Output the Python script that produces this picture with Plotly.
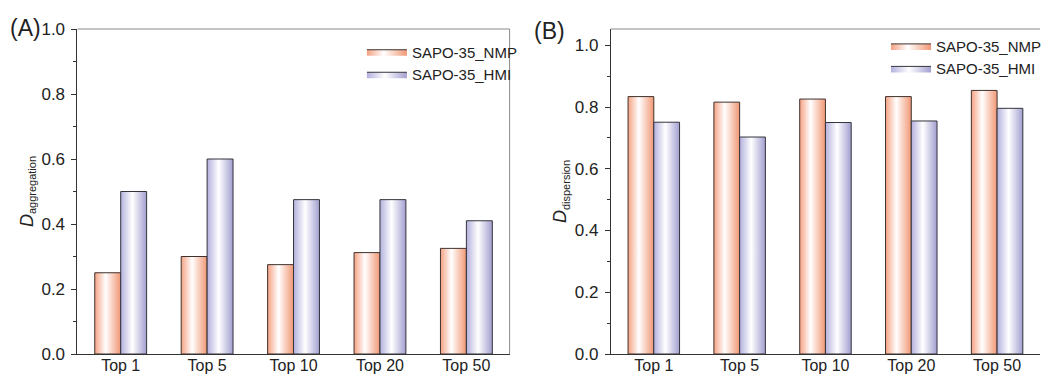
import plotly.graph_objects as go

categories = ["Top 1", "Top 5", "Top 10", "Top 20", "Top 50"]
agg_nmp = [0.25, 0.30, 0.275, 0.312, 0.325]
agg_hmi = [0.50, 0.60, 0.475, 0.475, 0.41]
disp_nmp = [0.834, 0.816, 0.826, 0.834, 0.854]
disp_hmi = [0.751, 0.703, 0.750, 0.755, 0.796]
series_names = ["SAPO-35_NMP", "SAPO-35_HMI"]

FONT = "Liberation Sans, Arial, sans-serif"
NMP_SCALE = [[0, "#F5A283"], [0.42, "#FFFFFF"], [1, "#F19774"]]
HMI_SCALE = [[0, "#B3B1DD"], [0.45, "#FFFFFF"], [1, "#A29FD0"]]
NMP_LINE = "#3f322e"
HMI_LINE = "#34343c"
BAR_W = 0.3

fig = go.Figure()


def add_series(values, offset, scale, lcolor, name, xa, ya, legend):
    for i, v in enumerate(values):
        x0 = i + offset - BAR_W / 2
        x1 = x0 + BAR_W
        fig.add_trace(go.Scatter(
            x=[x0, x0, x1, x1, x0], y=[0, v, v, 0, 0],
            mode="lines", fill="toself",
            fillgradient=dict(type="horizontal", colorscale=scale),
            line=dict(color=lcolor, width=1),
            name=name, legendgroup=name + legend, showlegend=(i == 0),
            legend=legend, xaxis=xa, yaxis=ya,
            hoveron="fills", text=f"{categories[i]}: {v}",
        ))


add_series(agg_nmp, -0.15, NMP_SCALE, NMP_LINE, series_names[0], "x", "y", "legend")
add_series(agg_hmi, 0.15, HMI_SCALE, HMI_LINE, series_names[1], "x", "y", "legend")
add_series(disp_nmp, -0.15, NMP_SCALE, NMP_LINE, series_names[0], "x2", "y2", "legend2")
add_series(disp_hmi, 0.15, HMI_SCALE, HMI_LINE, series_names[1], "x2", "y2", "legend2")

xcommon = dict(range=[-0.5, 4.5], tickvals=list(range(len(categories))), ticktext=categories,
               showline=True, linecolor="#333333", linewidth=1, ticks="", showgrid=False,
               zeroline=False, ticklabelstandoff=-3,
               tickfont=dict(size=16, color="#222222", family=FONT))
ycommon = dict(dtick=0.2, tick0=0, tickformat=".1f", ticks="outside", ticklen=5, tickcolor="#333333",
               minor=dict(dtick=0.1, ticks="outside", ticklen=3, tickcolor="#333333"),
               showline=True, linecolor="#333333", linewidth=1, showgrid=False, zeroline=False,
               ticklabelstandoff=3,
               tickfont=dict(size=17, color="#222222", family=FONT), title_standoff=3)

fig.update_layout(
    width=1047, height=375,
    margin=dict(l=0, r=0, t=29, b=21),
    paper_bgcolor="white", plot_bgcolor="white",
    font=dict(family=FONT, color="#222222"),
    xaxis=dict(domain=[0.0745, 0.49], anchor="y", **xcommon),
    yaxis=dict(range=[0, 1.0], anchor="x",
               title=dict(text="<i>D</i><sub><span style='font-size:11px'>aggregation</span></sub>",
                          font=dict(size=18, family=FONT)),
               **ycommon),
    xaxis2=dict(domain=[0.5874, 1.0], anchor="y2", **xcommon),
    yaxis2=dict(range=[0, 1.053], anchor="x2",
                title=dict(text="<i>D</i><sub><span style='font-size:11px'>dispersion</span></sub>",
                           font=dict(size=18, family=FONT)),
                **ycommon),
    legend=dict(x=0.348, y=0.98, xanchor="left", yanchor="top", bgcolor="rgba(0,0,0,0)",
                font=dict(size=15, family=FONT), tracegroupgap=0, itemwidth=40),
    legend2=dict(x=0.852, y=0.998, xanchor="left", yanchor="top", bgcolor="rgba(0,0,0,0)",
                 font=dict(size=15, family=FONT), tracegroupgap=0, itemwidth=40),
    showlegend=True,
    shapes=[
        dict(type="line", xref="x domain", yref="y domain", x0=0, x1=1, y0=1, y1=1,
             line=dict(color="#8a8a8a", width=1)),
        dict(type="line", xref="x domain", yref="y domain", x0=1, x1=1, y0=0, y1=1,
             line=dict(color="#8a8a8a", width=1)),
        dict(type="line", xref="x2 domain", yref="y2 domain", x0=0, x1=1, y0=1, y1=1,
             line=dict(color="#8a8a8a", width=1)),
    ],
    annotations=[
        dict(text="(A)", xref="paper", yref="paper", x=0.008, y=1.003, xanchor="left",
             yanchor="middle", showarrow=False, font=dict(size=23, family=FONT)),
        dict(text="(B)", xref="paper", yref="paper", x=0.512, y=0.995, xanchor="left",
             yanchor="middle", showarrow=False, font=dict(size=23, family=FONT)),
    ],
)

fig.write_html("out.html", config={"displayModeBar": False},
               post_script="document.body.style.margin='0';")
